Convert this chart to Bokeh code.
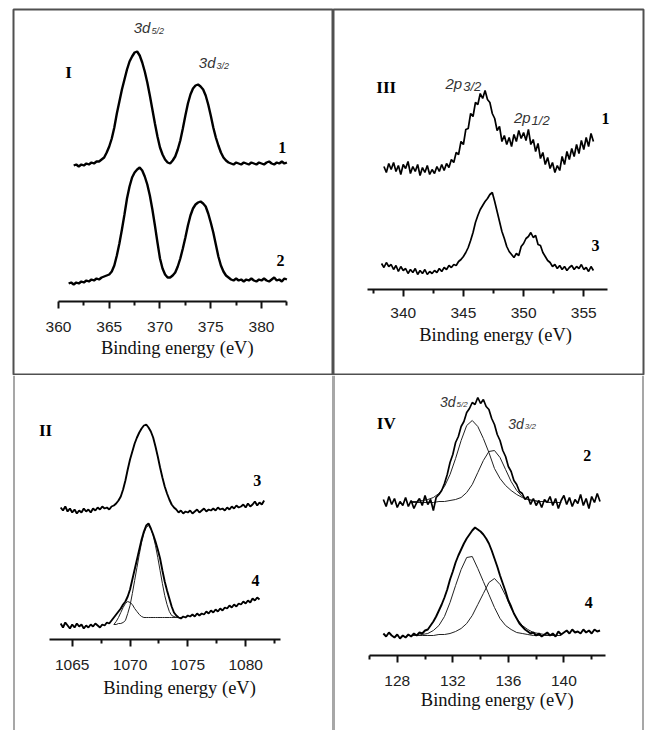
import numpy as np
from bokeh.plotting import figure
from bokeh.layouts import gridplot
from bokeh.models import Range1d, FixedTicker, Span
from bokeh.embed import file_html
from bokeh.resources import INLINE
from bokeh.core.properties import value

# ---------------- data (intensity, a.u.) ----------------
# Panel I : 3d spectra, energy grid start / step (eV)
I1_E0, I1_DE = 361.5, 0.25
I1 = [0, 1, -1, 1, 0, 2, 1, 3, 2, 4, 4, 6, 8, 13, 19, 27, 38, 52, 64, 76, 86, 96, 104, 109, 113, 114,
      110, 103, 94, 83, 70, 56, 42, 29, 18, 11, 6, 3, 2, 5, 9, 16, 25, 37, 50, 62, 71, 77, 80, 81,
      79, 76, 70, 61, 50, 38, 28, 20, 13, 8, 5, 3, 2, 1, 3, 2, 1, 3, 2, 1, 3, 2, 1, 3, 2, 1,
      3, 4, 2, 1, 3, 2, 4, 2, 3]
I2_E0, I2_DE = 361.0, 0.25
I2 = [-3, -2, -4, -2, -3, -1, -2, 0, -1, 1, 0, 2, 1, 3, 4, 5, 6, 9, 15, 25, 37, 51, 66, 82, 94, 103,
      108, 111, 113, 110, 104, 96, 85, 71, 55, 38, 22, 12, 6, 3, 3, 5, 8, 14, 22, 32, 43, 55, 65, 72,
      76, 78, 79, 77, 74, 67, 58, 48, 36, 24, 15, 9, 5, 3, 1, 0, 2, 0, 1, -1, 1, 0, 2, 0,
      -1, 1, 0, 2, 0, -1, 1, 3, 0, 1, -1, 2, 1]

# Panel III : 2p spectra
III1_E0, III1_DE = 338.4, 0.2
III1 = [2, -4, 5, -1, 6, -3, 3, -6, 4, 0, 7, -5, 2, -3, 4, -7, 1, -4, 3, -6, -1, -5, 2, -3, 4, -2, 5, 1, 9,
        6, 16, 14, 27, 24, 39, 40, 55, 52, 66, 64, 75, 70, 78, 69, 66, 55, 50, 38, 42, 27, 33, 24, 31, 22,
        34, 27, 38, 30, 36, 28, 39, 24, 29, 17, 25, 10, 16, 4, 11, 0, 6, -4, 3, -2, 12, 4, 17, 9, 20,
        12, 24, 15, 28, 19, 31, 22, 35, 27]
III3_E0, III3_DE = 338.2, 0.2
III3 = [4, 0, 5, 1, 3, -2, 2, -4, 1, -3, -1, -6, -2, -5, -1, -7, -3, -6, -2, -7, -4, -6, -3, -5, -1, -4,
        0, -2, 2, 0, 3, 2, 6, 8, 11, 15, 20, 27, 35, 45, 52, 58, 62, 66, 69, 73, 75, 66, 56, 46, 36, 29,
        21, 16, 13, 10, 14, 12, 21, 24, 29, 31, 35, 30, 32, 23, 22, 15, 11, 7, 5, 1, 3, -1, 2, -2, 1,
        -3, 0, 2, -2, 1, -1, 3, -2, 0, -4, 1, -3]

# Panel II : spectra 3 and 4 with fitted components of 4
II3_E0, II3_DE = 1064.0, 0.2
II3 = [3, 0, 4, -1, 2, -2, 1, -3, 0, -2, 2, -1, 1, -2, 2, 0, 3, 1, 4, 2, 3, 1, 4, 5, 7, 10, 14, 21, 30,
       41, 51, 59, 67, 73, 78, 82, 85, 86, 83, 79, 73, 64, 54, 43, 33, 24, 17, 11, 6, 3, 1, -2, 0, -3,
       -1, -2, 0, -3, -1, 1, -2, 0, 2, -1, 1, 0, 2, 0, 3, 1, 2, 0, 3, 1, 4, 2, 5, 3, 4, 6, 3, 7, 4, 6,
       9, 5, 8, 6, 10]
II4_E0, II4_DE = 1064.0, 0.2
II4 = [2, -2, 3, 0, -3, 1, -2, 2, -1, 1, -3, 0, -2, 1, -1, 2, 0, -2, 1, 0, 3, 2, 5, 8, 11, 14, 17, 21,
       24, 29, 36, 46, 56, 66, 76, 86, 94, 100, 102, 97, 91, 84, 76, 67, 55, 44, 35, 27, 19, 13, 10, 8,
       7, 9, 8, 10, 9, 11, 9, 12, 10, 12, 11, 14, 12, 15, 13, 16, 14, 17, 15, 18, 17, 20, 18, 21, 19,
       22, 21, 24, 22, 25, 23, 27, 25, 28, 26]
II4_FIT_E0, II4_FIT_DE = 1068.6, 0.2
II4_FIT_A = [1, 1, 2, 2, 3, 5, 12, 20, 32, 45, 58, 71, 83, 92, 98, 100, 97, 90, 80, 68, 55, 42, 30, 21,
             14, 10, 9, 8, 8, 8]
II4_FIT_B = [1, 4, 8, 13, 18, 22, 24, 23, 21, 17, 14, 11, 9, 8, 8, 8, 8, 8, 8, 8, 8, 8, 8, 8, 8, 8,
             8, 8, 8, 8]

# Panel IV : spectra 2 and 4 with fitted 3d5/2 and 3d3/2 components
IV2_E0, IV2_DE = 127.0, 0.2
IV2 = [3, -4, 6, -2, 4, -5, 1, -3, 5, -4, 2, -6, 0, 4, -3, 7, -2, 3, -8, 5, 8, 12, 19, 28, 40, 48, 60,
       66, 76, 81, 90, 94, 100, 98, 105, 99, 103, 96, 93, 84, 78, 68, 62, 52, 46, 36, 31, 22, 18, 11,
       9, 3, 6, -2, 4, -3, 2, -5, 3, 0, 6, -3, 4, -6, 2, 7, -2, 5, -4, 3, -1, 8, -3, 4, -6, 6, 0, 9, 1]
IV4_E0, IV4_DE = 127.0, 0.2
IV4 = [2, -1, 3, 0, -2, 1, -3, 0, -2, 1, -1, 2, 0, 3, 2, 5, 6, 10, 14, 19, 25, 31, 38, 46, 56, 64, 73,
       80, 86, 92, 97, 101, 105, 108, 106, 104, 101, 97, 92, 85, 77, 69, 60, 52, 44, 35, 29, 22, 17,
       12, 9, 6, 4, 2, 3, 0, 2, -1, 1, 3, 0, 2, -1, 4, 1, 3, 5, 2, 6, 3, 4, 2, 6, 3, 5, 2, 6, 4, 5]
IV_FIT_E0, IV_FIT_DE = 129.0, 0.4
IV2_FIT_A = [1, 1, 2, 3, 5, 9, 16, 28, 44, 62, 77, 82, 76, 64, 50, 34, 24, 17, 12, 8, 5, 3, 2, 1, 1, 0,
             0, 0]
IV2_FIT_B = [0, 0, 0, 0, 0, 1, 1, 2, 3, 5, 10, 18, 30, 42, 51, 52, 45, 33, 21, 12, 6, 3, 2, 1, 1, 0,
             0, 0]
IV4_FIT_A = [0, 0, 1, 2, 5, 10, 19, 33, 50, 66, 78, 79, 67, 54, 41, 28, 17, 10, 6, 3, 2, 1, 0, 0, 0, 0,
             0, 0]
IV4_FIT_B = [0, 0, 0, 0, 0, 1, 1, 2, 4, 7, 12, 20, 31, 42, 53, 57, 51, 40, 27, 17, 10, 6, 3, 2, 1, 0,
             0, 0]

AXIS_LABEL = "Binding energy (eV)"


def grid(e0, de, vals):
    return e0 + de * np.arange(len(vals))


# ---------------- layout ----------------
BORDER = "#505050"
SERIF = "Liberation Serif"
SANS = "Liberation Sans"


def panel(width, height, xr, yr, mb, axis_y, bounds, majors, minors, label_xy, outline=True):
    p = figure(width=width, height=height, x_range=Range1d(*xr), y_range=Range1d(*yr),
               output_backend="svg", toolbar_location=None, y_axis_location=None,
               min_border_left=mb[0], min_border_right=mb[1], min_border_top=mb[2],
               min_border_bottom=mb[3])
    p.grid.visible = False
    p.background_fill_color = "white"
    p.border_fill_color = "white"
    if outline:
        p.outline_line_color = BORDER
        p.outline_line_width = 2
    else:
        p.outline_line_color = None
    ax = p.xaxis[0]
    ax.fixed_location = axis_y
    ax.bounds = bounds
    ax.ticker = FixedTicker(ticks=majors, minor_ticks=minors)
    ax.axis_line_width = 2
    ax.axis_line_color = "#111111"
    ax.major_tick_line_width = 2
    ax.major_tick_line_color = "#111111"
    ax.minor_tick_line_width = 2
    ax.minor_tick_line_color = "#111111"
    ax.major_tick_out = 7
    ax.major_tick_in = 0
    ax.minor_tick_out = 4
    ax.minor_tick_in = 0
    ax.major_label_text_font = SANS
    ax.major_label_text_font_size = "15.5px"
    ax.major_label_text_color = "#222222"
    ax.major_label_standoff = 13
    # axis title drawn as serif text under the tick labels
    p.text(x=[label_xy[0]], y=[label_xy[1]], text=[AXIS_LABEL], text_font=value(SERIF),
           text_font_size="18.5px", text_align="center", text_baseline="middle",
           text_color="#111111")
    return p


def spectrum(p, e0, de, vals, offset, width=2.0):
    x = grid(e0, de, vals)
    p.line(x, np.asarray(vals, dtype=float) + offset, line_color="black", line_width=width)


def fit(p, e0, de, vals, offset):
    x = grid(e0, de, vals)
    p.line(x, np.asarray(vals, dtype=float) + offset, line_color="#222222", line_width=1)


def roman(p, x, y, t):
    p.text(x=[x], y=[y], text=[t], text_font=value(SERIF), text_font_style="bold",
           text_font_size="17px", text_align="center", text_baseline="middle", text_color="black")


def number(p, x, y, t):
    p.text(x=[x], y=[y], text=[t], text_font=value(SERIF), text_font_style="bold",
           text_font_size="16px", text_align="center", text_baseline="middle", text_color="black")


def level(p, x, y, main, sub, size_main, size_sub, sub_dy):
    p.text(x=[x], y=[y], text=[main], text_font=value(SANS), text_font_style="italic",
           text_font_size=size_main, text_align="right", text_baseline="middle", text_color="#333333")
    p.text(x=[x], y=[y], text=[sub], text_font=value(SANS), text_font_style="italic",
           text_font_size=size_sub, text_align="left", text_baseline="middle", text_color="#333333",
           x_offset=1, y_offset=sub_dy)


# Panel I (top-left)
p1 = panel(333, 375, (355.57, 387.09), (0, 366), (13, 0, 9, 0), 74, (360, 382.5),
           [360, 365, 370, 375, 380], [362.5, 367.5, 372.5, 377.5, 382.5], (371.7, 28))
spectrum(p1, I1_E0, I1_DE, I1, 210, 2.4)
spectrum(p1, I2_E0, I2_DE, I2, 95, 2.4)
roman(p1, 360.99, 303, "I")
number(p1, 382.04, 228, "1")
number(p1, 381.87, 115, "2")
level(p1, 369.06, 348, "3d", "5/2", "15px", "9px", 3)
level(p1, 375.47, 313, "3d", "3/2", "15px", "9px", 3)

# Panel III (top-right)
p3 = panel(313, 375, (334.21, 359.96), (0, 366), (0, 3, 9, 0), 85.7, (337, 357),
           [340, 345, 350, 355], [337.5, 342.5, 347.5, 352.5], (347.67, 41))
p3.xaxis[0].major_label_standoff = 11
spectrum(p3, III1_E0, III1_DE, III1, 207, 1.7)
spectrum(p3, III3_E0, III3_DE, III3, 108, 1.7)
roman(p3, 338.59, 288, "III")
number(p3, 356.8, 257, "1")
number(p3, 355.97, 130, "3")
level(p3, 344.9, 292, "2p", "3/2", "15px", "13px", 3)
level(p3, 350.58, 258, "2p", "1/2", "15px", "13px", 3)

# Panel II (bottom-left)
p2 = panel(333, 355, (1059.92, 1087.6), (0, 355), (13, 0, 0, 0), 91, (1063, 1083),
           [1065, 1070, 1075, 1080], [1067.5, 1072.5, 1077.5, 1082.5], (1074.28, 43),
           outline=False)
fit(p2, II4_FIT_E0, II4_FIT_DE, II4_FIT_A, 105)
fit(p2, II4_FIT_E0, II4_FIT_DE, II4_FIT_B, 105)
spectrum(p2, II3_E0, II3_DE, II3, 220, 1.9)
spectrum(p2, II4_E0, II4_DE, II4, 105, 1.9)
roman(p2, 1062.69, 300, "II")
number(p2, 1081.0, 250, "3")
number(p2, 1080.86, 150, "4")
p2.add_layout(Span(location=1059.92, dimension="height", line_color=BORDER, line_width=2))
p2.add_layout(Span(location=1087.6, dimension="height", line_color=BORDER, line_width=2))

# Panel IV (bottom-right)
p4 = panel(313, 355, (123.41, 145.73), (0, 355), (0, 3, 0, 0), 75, (126, 143),
           [128, 132, 136, 140], [126, 130, 134, 138, 142], (135.2, 31), outline=False)
fit(p4, IV_FIT_E0, IV_FIT_DE, IV2_FIT_A, 228)
fit(p4, IV_FIT_E0, IV_FIT_DE, IV2_FIT_B, 228)
fit(p4, IV_FIT_E0, IV_FIT_DE, IV4_FIT_A, 95)
fit(p4, IV_FIT_E0, IV_FIT_DE, IV4_FIT_B, 95)
spectrum(p4, IV2_E0, IV2_DE, IV2, 228, 1.7)
spectrum(p4, IV4_E0, IV4_DE, IV4, 95, 1.9)
roman(p4, 127.21, 307, "IV")
number(p4, 141.68, 275, "2")
number(p4, 141.79, 128, "4")
level(p4, 132.2, 329, "3d", "5/2", "14px", "8px", 3)
level(p4, 137.11, 307, "3d", "3/2", "14px", "8px", 3)
p4.add_layout(Span(location=123.41, dimension="height", line_color=BORDER, line_width=2))
p4.add_layout(Span(location=145.73, dimension="height", line_color=BORDER, line_width=2))

layout = gridplot([[p1, p3], [p2, p4]], toolbar_location=None)
open("out.html", "w").write(file_html(layout, INLINE))
